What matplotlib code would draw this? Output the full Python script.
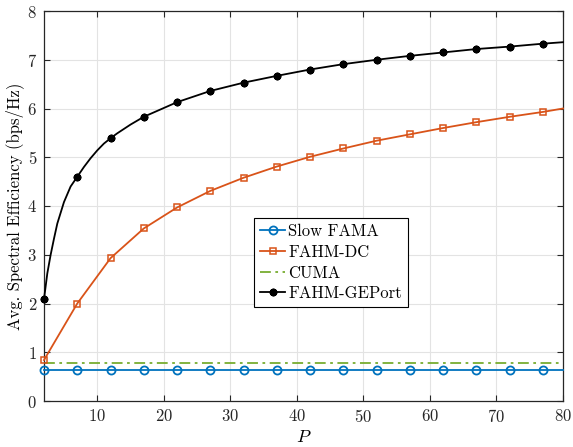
import matplotlib
matplotlib.use("Agg")
import matplotlib.pyplot as plt
import numpy as np

plt.rcParams['font.family'] = 'cmr10'
plt.rcParams['mathtext.fontset'] = 'cm'
plt.rcParams['axes.formatter.use_mathtext'] = True
plt.rcParams['axes.unicode_minus'] = False

# ---- data ----
P_markers = [2, 7, 12, 17, 22, 27, 32, 37, 42, 47, 52, 57, 62, 67, 72, 77]

P_slow = [2, 7, 12, 17, 22, 27, 32, 37, 42, 47, 52, 57, 62, 67, 72, 77, 80]
se_slow = [0.64] * len(P_slow)

P_dc = [2, 7, 12, 17, 22, 27, 32, 37, 42, 47, 52, 57, 62, 67, 72, 77, 80]
se_dc = [0.84, 2.00, 2.93, 3.54, 3.97, 4.31, 4.58, 4.81, 5.01, 5.18, 5.34,
         5.47, 5.60, 5.72, 5.83, 5.93, 6.00]

P_cuma = [2, 80]
se_cuma = [0.786, 0.786]

P_ge = [2, 2.5, 3, 3.5, 4, 5, 6, 7, 8, 9, 10, 11, 12, 13, 14, 15, 16, 17,
        22, 27, 32, 37, 42, 47, 52, 57, 62, 67, 72, 77, 80]
se_ge = [2.09, 2.62, 3.00, 3.33, 3.64, 4.08, 4.40, 4.60, 4.80, 4.98, 5.14,
         5.28, 5.39, 5.49, 5.58, 5.67, 5.75, 5.83, 6.13, 6.36, 6.53, 6.67,
         6.80, 6.91, 7.00, 7.08, 7.15, 7.22, 7.27, 7.33, 7.36]

labels = ['Slow FAMA', 'FAHM-DC', 'CUMA', 'FAHM-GEPort']
colors = ['#0072BD', '#D95319', '#77AC30', '#000000']


def mark_idx(P):
    return [i for i, p in enumerate(P) if p in P_markers]


fig = plt.figure(figsize=(5.73, 4.47), dpi=100)
ax = fig.add_axes([44 / 573, 46 / 447, 519 / 573, 390 / 447])

ax.plot(P_slow, se_slow, color=colors[0], lw=1.3, marker='o', ms=5.8,
        mfc='none', mew=1.3, markevery=mark_idx(P_slow), label=labels[0],
        clip_on=False, zorder=3)
ax.plot(P_dc, se_dc, color=colors[1], lw=1.3, marker='s', ms=4.8,
        mfc='none', mew=1.1, markevery=mark_idx(P_dc), label=labels[1],
        clip_on=False, zorder=3)
ax.plot(P_cuma, se_cuma, color=colors[2], lw=1.3, ls='-.',
        dashes=(6, 2.5, 1.5, 2.5), label=labels[2], zorder=2)
ax.plot(P_ge, se_ge, color=colors[3], lw=1.3, marker=(8, 2, 0), ms=5.5,
        mew=1.6, markevery=mark_idx(P_ge), label=labels[3],
        clip_on=False, zorder=4)

ax.set_xlim(2, 80)
ax.set_ylim(0, 8)
ax.set_xticks([10, 20, 30, 40, 50, 60, 70, 80])
ax.set_yticks(range(0, 9))
ax.grid(True, color='#e3e3e3', lw=0.8)
ax.set_axisbelow(True)
for s in ax.spines.values():
    s.set_color('#262626')
    s.set_linewidth(0.9)
ax.tick_params(direction='in', top=True, right=True, length=4,
               labelsize=12, colors='#262626', width=0.8, pad=5)
ax.set_xlabel('$P$', fontsize=13, labelpad=3)
ax.set_ylabel('Avg. Spectral Efficiency (bps/Hz)', fontsize=12, labelpad=2)

leg = ax.legend(loc='upper left', bbox_to_anchor=(0.405, 0.469),
                borderaxespad=0, fontsize=12, fancybox=False,
                edgecolor='black', framealpha=1, handlelength=1.5,
                handletextpad=0.2, labelspacing=0.32, borderpad=0.35)
leg.get_frame().set_linewidth(0.8)

fig.savefig('out.png', dpi=100)
